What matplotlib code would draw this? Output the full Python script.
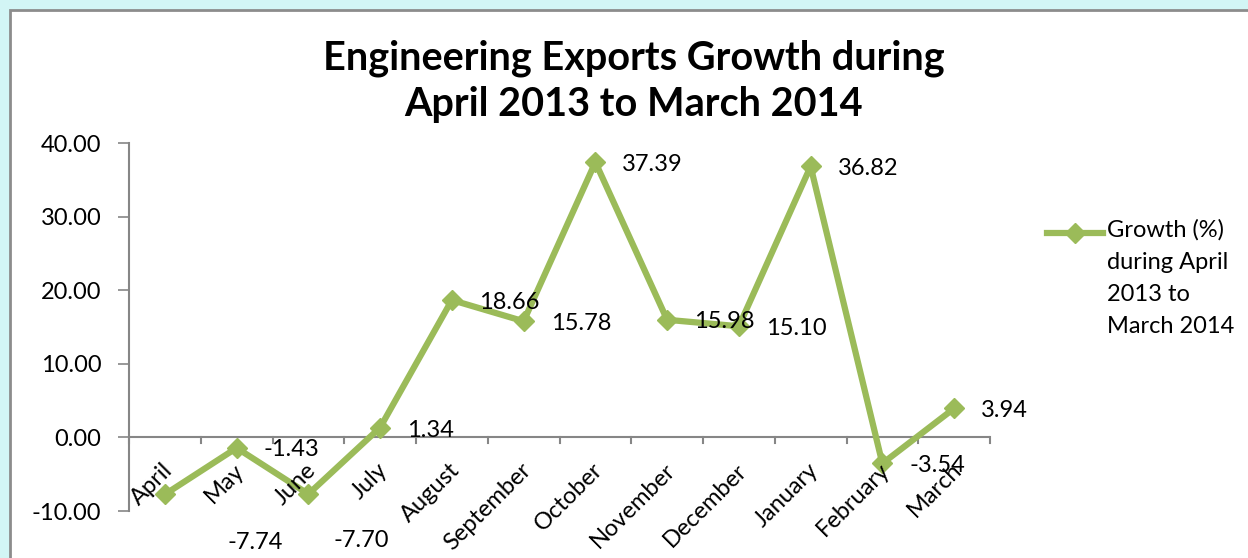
import matplotlib
matplotlib.use("Agg")
import matplotlib.pyplot as plt
from matplotlib.patches import Rectangle
from matplotlib.lines import Line2D

months = ["April", "May", "June", "July", "August", "September", "October",
          "November", "December", "January", "February", "March"]
growth = [-7.74, -1.43, -7.70, 1.34, 18.66, 15.78, 37.39, 15.98, 15.10, 36.82, -3.54, 3.94]
yticks = [-10, 0, 10, 20, 30, 40]
series_name = "Growth (%)\nduring April\n2013 to\nMarch 2014"
title = "Engineering Exports Growth during\nApril 2013 to March 2014"

GREEN = "#9BBB59"
GREY = "#868686"
FONT = "Lato"
FS = 17

fig = plt.figure(figsize=(12.48, 5.58), dpi=100)
fig.patch.set_facecolor("#D2F5F5")
# white chart area with grey border
bg = Rectangle((10 / 1248, -0.1), 1.2, (548 / 558) + 0.1, transform=fig.transFigure,
               facecolor="white", edgecolor="#8C8C8C", linewidth=2, zorder=-10)
fig.add_artist(bg)

ax = fig.add_axes([129 / 1248, 1 - 511 / 558, (990 - 129) / 1248, (511 - 143) / 558])
ax.set_zorder(1)
ax.set_facecolor("none")
x = list(range(len(months)))
ax.plot(x, growth, color=GREEN, linewidth=4.5, marker="D", markersize=10.5,
        markerfacecolor=GREEN, markeredgecolor=GREEN, solid_joinstyle="miter", clip_on=False, zorder=3)

ax.set_xlim(-0.5, len(months) - 0.5)
ax.set_ylim(-10, 40)
ax.set_yticks(yticks)
ax.set_yticklabels([f"{v:.2f}" for v in yticks], fontsize=FS, family=FONT)
ax.tick_params(axis="y", direction="out", length=8, width=1.2, color=GREY, pad=12)
for s in ["top", "right", "bottom"]:
    ax.spines[s].set_visible(False)
ax.spines["left"].set_color(GREY)
ax.spines["left"].set_linewidth(1.5)

# horizontal category axis at y=0
ax.axhline(0, color=GREY, linewidth=1.5, zorder=1)
ax.set_xticks([])
for b in range(len(months) + 1):
    ax.plot([b - 0.5, b - 0.5], [0, -0.75], color=GREY, linewidth=1.5, clip_on=False, zorder=1)

for i, m in enumerate(months):
    ax.annotate(m, xy=(i, 0), xytext=(-3, -22), textcoords="offset pixels",
                rotation=45, ha="right", va="top", rotation_mode="anchor",
                fontsize=FS, family=FONT, annotation_clip=False)

# data labels
offsets = [(63, -48), (27, -2), (25, -46), (27, -3), (27, -2), (27, -2), (27, -2),
           (27, -2), (27, -2), (27, -2), (27, -2), (27, -2)]
for i, v in enumerate(growth):
    ax.annotate(f"{v:.2f}", xy=(i, v), xytext=offsets[i], textcoords="offset pixels",
                ha="left", va="center", fontsize=FS, family=FONT, annotation_clip=False, zorder=4)

fig.text(634 / 1248, 1 - 81 / 558, title, ha="center", va="center", fontsize=28.5,
         fontweight="bold", family=FONT, linespacing=1.3)

# legend
leg_y = 1 - 233 / 558
fig.add_artist(Line2D([1047 / 1248, 1103 / 1248], [leg_y, leg_y], transform=fig.transFigure,
                      color=GREEN, linewidth=4.5))
fig.add_artist(Line2D([1075 / 1248], [leg_y], transform=fig.transFigure, color=GREEN,
                      marker="D", markersize=10.5, linestyle="none"))
fig.text(1107 / 1248, 1 - 219 / 558, series_name, ha="left", va="top", fontsize=FS,
         family=FONT, linespacing=1.66)

fig.savefig("out.png", dpi=100, facecolor=fig.get_facecolor())
